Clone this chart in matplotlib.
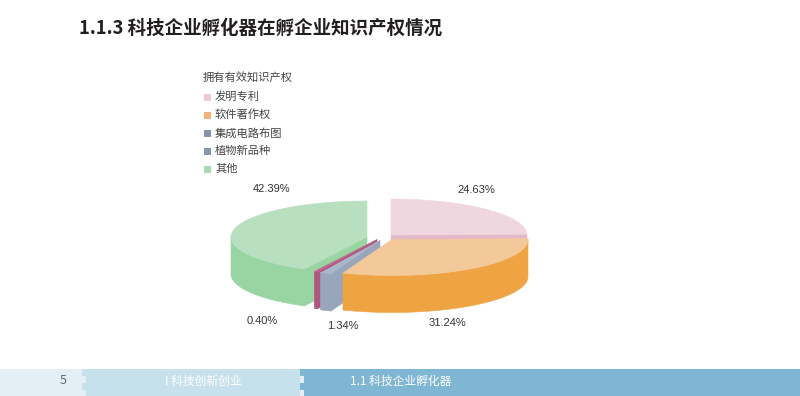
import numpy as np
import matplotlib.pyplot as plt
from matplotlib.patches import Polygon, Rectangle

plt.rcParams['font.family'] = ['Noto Sans CJK SC', 'DejaVu Sans']

title = '1.1.3 科技企业孵化器在孵企业知识产权情况'
legend_title = '拥有有效知识产权'
categories = ['发明专利', '软件著作权', '集成电路布图', '植物新品种', '其他']
shares = [24.63, 31.24, 1.34, 0.40, 42.39]
pct_labels = ['24.63%', '31.24%', '1.34%', '0.40%', '42.39%']
footer_page = '5'
footer_chapter = 'I 科技创新创业'
footer_section = '1.1 科技企业孵化器'

top_colors = ['#f0d6df', '#f4c99a', '#aab7ca', '#c0668c', '#b8e0c0']
side_colors = ['#e2b9c9', '#efa444', '#97a6ba', '#b0567c', '#99d4a3']
legend_colors = ['#ebcad3', '#efb57c', '#8494ab', '#8797ad', '#a9d9b2']

# pie geometry, in pixels of the page
A, B, H = 136, 36, 37
centers = [(391, 235), (392, 239.5), (380, 240.5), (377, 239.5), (367, 237)]
label_pos = [(476, 190), (447, 323), (343, 326), (262, 321), (272, 189)]
draw_order = [0, 4, 3, 2, 1]


def pt(cx, cy, t, r=1.0, dz=0.0):
    return cx + r * A * np.cos(t), cy - r * B * np.sin(t) + dz


def face(ax, xs, ys, color, z):
    ax.add_patch(Polygon(np.column_stack([xs, ys]), closed=True, facecolor=color,
                         edgecolor=color, lw=0.4, zorder=z))


def draw_slice(ax, cx, cy, lo, hi, top_c, side_c, z):
    # outer curved side, only the part facing the viewer
    for k in (-1, 0, 1):
        s = max(lo, (2 * k - 1) * np.pi)
        e = min(hi, 2 * k * np.pi)
        if e > s:
            ts = np.linspace(s, e, 80)
            x1, y1 = pt(cx, cy, ts)
            x2, y2 = pt(cx, cy, ts[::-1], dz=H)
            face(ax, np.r_[x1, x2], np.r_[y1, y2], side_c, z)
    # radial walls
    for t, vis in ((hi, np.cos(hi) < 0), (lo, np.cos(lo) > 0)):
        if vis:
            ox, oy = pt(cx, cy, t)
            face(ax, [cx, ox, ox, cx], [cy, oy, oy + H, cy + H], side_c, z)
    # top face
    ts = np.linspace(lo, hi, 120)
    x, y = pt(cx, cy, ts)
    face(ax, np.r_[cx, x], np.r_[cy, y], top_c, z + 0.5)


fig = plt.figure(figsize=(8, 3.96), dpi=100)
ax = fig.add_axes([0, 0, 1, 1])
ax.set_xlim(0, 800)
ax.set_ylim(396, 0)
ax.axis('off')

# title
ax.text(79, 28, title, fontsize=13.3, fontweight='bold', color='#231f20', va='center')

# legend
ax.text(203, 78, legend_title, fontsize=8.1, color='#444444', va='center')
for i, (name, c) in enumerate(zip(categories, legend_colors)):
    y = 97 + 18 * i
    ax.add_patch(Rectangle((204, y - 3.5), 7, 7, facecolor=c, edgecolor='none'))
    ax.text(215, y, name, fontsize=8.1, color='#444444', va='center')

# pie, clockwise from 12 o'clock
fr = np.array(shares) / sum(shares)
cum = np.r_[0, np.cumsum(fr)]
for i in draw_order:
    hi = np.pi / 2 - 2 * np.pi * cum[i]
    lo = np.pi / 2 - 2 * np.pi * cum[i + 1]
    cx, cy = centers[i]
    draw_slice(ax, cx, cy, lo, hi, top_colors[i], side_colors[i], 2 + draw_order.index(i))

for lab, (x, y) in zip(pct_labels, label_pos):
    ax.text(x, y, lab, fontsize=8, color='#333333', ha='center', va='center',
            family='Liberation Sans')

# footer band
ax.add_patch(Rectangle((0, 369), 800, 27, facecolor='#e3eff4', edgecolor='none'))
ax.add_patch(Rectangle((90, 369), 210, 27, facecolor='#c6e1eb', edgecolor='none'))
ax.add_patch(Rectangle((308, 369), 492, 27, facecolor='#7fb6d3', edgecolor='none'))
for (x0, c) in ((82, '#c6e1eb'), (300, '#7fb6d3')):
    for dx, yy in ((0, 369), (4, 376), (0, 383), (4, 390)):
        ax.add_patch(Rectangle((x0 + dx, yy), 8 - dx, 7, facecolor=c, edgecolor='none'))
ax.text(60, 381, footer_page, fontsize=9, color='#5a6b75', va='center')
ax.text(165, 381, footer_chapter, fontsize=8.5, color='white', va='center')
ax.text(350, 381, footer_section, fontsize=8.5, color='white', va='center')

fig.savefig('out.png', dpi=100)
